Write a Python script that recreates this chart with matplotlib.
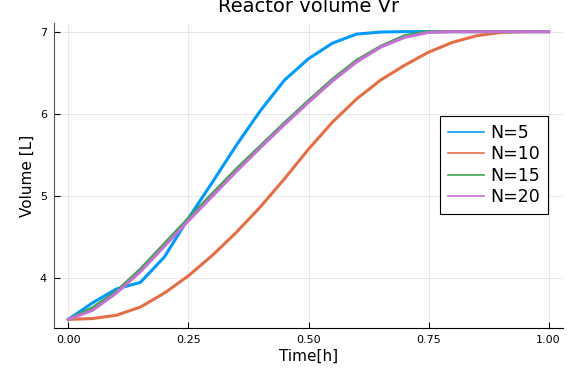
import numpy as np
import matplotlib.pyplot as plt

# time grid and reactor volume for each number of elements
t = [0.00, 0.05, 0.10, 0.15, 0.20, 0.25, 0.30, 0.35, 0.40, 0.45, 0.50,
     0.55, 0.60, 0.65, 0.70, 0.75, 0.80, 0.85, 0.90, 0.95, 1.00]

vr_n5 = [3.50, 3.70, 3.87, 3.95, 4.26, 4.73, 5.17, 5.62, 6.04, 6.41, 6.67,
         6.86, 6.97, 6.995, 7.00, 7.00, 7.00, 7.00, 7.00, 7.00, 7.00]
vr_n10 = [3.50, 3.51, 3.55, 3.65, 3.82, 4.03, 4.28, 4.56, 4.87, 5.21, 5.57,
          5.90, 6.18, 6.41, 6.59, 6.75, 6.87, 6.95, 6.99, 7.00, 7.00]
vr_n15 = [3.50, 3.64, 3.84, 4.11, 4.42, 4.73, 5.03, 5.33, 5.61, 5.89, 6.16,
          6.42, 6.65, 6.82, 6.95, 7.00, 7.00, 7.00, 7.00, 7.00, 7.00]
vr_n20 = [3.50, 3.61, 3.82, 4.08, 4.39, 4.70, 5.00, 5.30, 5.59, 5.87, 6.14,
          6.40, 6.63, 6.81, 6.93, 6.99, 7.00, 7.00, 7.00, 7.00, 7.00]

series = [("N=5", vr_n5, "#009AFA"),
          ("N=10", vr_n10, "#E36F47"),
          ("N=15", vr_n15, "#3EA44E"),
          ("N=20", vr_n20, "#C371D2")]

fig = plt.figure(figsize=(5.69, 3.83), dpi=100)
ax = fig.add_axes([54/569, 1 - 328/383, 509/569, 305/383])

for name, vals, col in series:
    ax.plot(t, vals, color=col, lw=2.2, label=name)

ax.set_xlim(-0.03, 1.03)
ax.set_ylim(3.395, 7.105)
ax.set_xticks([0.0, 0.25, 0.5, 0.75, 1.0])
ax.set_xticklabels(["0.00", "0.25", "0.50", "0.75", "1.00"])
ax.set_yticks([4, 5, 6, 7])

ax.grid(True, color="black", alpha=0.1, lw=0.6)
ax.tick_params(direction="in", length=4, width=0.8, labelsize=8, pad=5)
for s in ["top", "right"]:
    ax.spines[s].set_visible(False)
ax.spines["left"].set_color("#555555")
ax.spines["bottom"].set_color("black")

ax.set_xlabel("Time[h]", fontsize=11, labelpad=3)
ax.set_ylabel("Volume [L]", fontsize=11, labelpad=4)
ax.set_title("Reactor volume Vr", fontsize=14, pad=8)

leg = ax.legend(loc="upper right", bbox_to_anchor=(0.97, 0.695), borderaxespad=0,
                fontsize=12.5, fancybox=False, framealpha=1, edgecolor="black",
                handlelength=2.1, handletextpad=0.35, labelspacing=0.2,
                borderpad=0.45)
leg.get_frame().set_linewidth(0.8)
for ln in leg.get_lines():
    ln.set_linewidth(1.2)

fig.savefig("out.png", dpi=100)
